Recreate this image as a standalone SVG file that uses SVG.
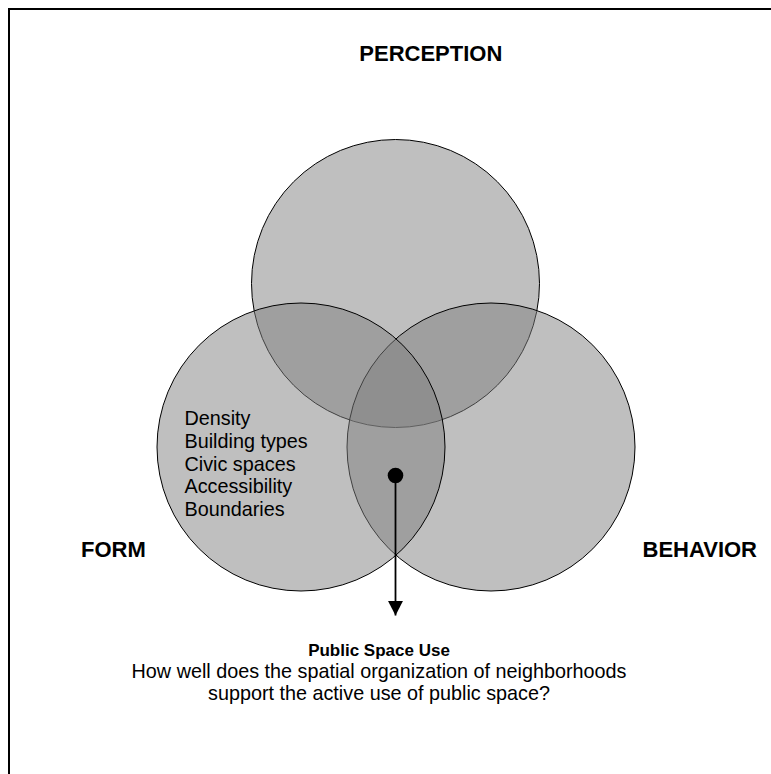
<svg xmlns="http://www.w3.org/2000/svg" width="771" height="774" viewBox="0 0 771 774">
  <style>
    .set { fill: #808080; fill-opacity: 0.5; stroke: #000; stroke-width: 1; }
    .title { font-family: "Liberation Sans", Arial, sans-serif; font-weight: bold; font-size: 22px; fill: #000; }
    .item { font-family: "Liberation Sans", Arial, sans-serif; font-size: 19.8px; fill: #000; }
    .caption { font-family: "Liberation Sans", Arial, sans-serif; font-size: 19.8px; fill: #000; text-anchor: middle; }
    .caption-head { font-family: "Liberation Sans", Arial, sans-serif; font-weight: bold; font-size: 17px; fill: #000; text-anchor: middle; }
  </style>
  <defs>
    <marker id="arrowhead" viewBox="0 0 16 16" markerWidth="16" markerHeight="16" refX="15" refY="8" orient="auto" markerUnits="userSpaceOnUse">
      <path d="M 0 0.3 L 15 8 L 0 15.7 Z" fill="#000"/>
    </marker>
  </defs>

  <rect x="0" y="0" width="771" height="774" fill="#fff"/>
  <!-- frame, open towards the right and bottom edges -->
  <rect x="9" y="9" width="800" height="800" fill="none" stroke="#000" stroke-width="2"/>

  <g id="perception">
    <circle class="set" cx="395.5" cy="283.5" r="144"/>
    <text class="title" x="430.8" y="61" text-anchor="middle">PERCEPTION</text>
  </g>

  <g id="behavior">
    <circle class="set" cx="491" cy="447" r="144"/>
    <text class="title" x="642.5" y="556.5">BEHAVIOR</text>
  </g>

  <g id="form">
    <circle class="set" cx="301" cy="447" r="144"/>
    <text class="title" x="81" y="556.5">FORM</text>
    <text class="item" x="184.5" y="425">Density</text>
    <text class="item" x="184.5" y="447.8">Building types</text>
    <text class="item" x="184.5" y="470.6">Civic spaces</text>
    <text class="item" x="184.5" y="493.4">Accessibility</text>
    <text class="item" x="184.5" y="516.2">Boundaries</text>
  </g>

  <g id="connectors">
    <circle cx="395.5" cy="475.5" r="7.8" fill="#000"/>
    <line x1="395.5" y1="475.5" x2="395.5" y2="615.5" stroke="#000" stroke-width="1.8" marker-end="url(#arrowhead)"/>
  </g>

  <g id="public-space-use">
    <text class="caption-head" x="379" y="655.5">Public Space Use</text>
    <text class="caption" x="379" y="677.5">How well does the spatial organization of neighborhoods</text>
    <text class="caption" x="379" y="700">support the active use of public space?</text>
  </g>
</svg>
